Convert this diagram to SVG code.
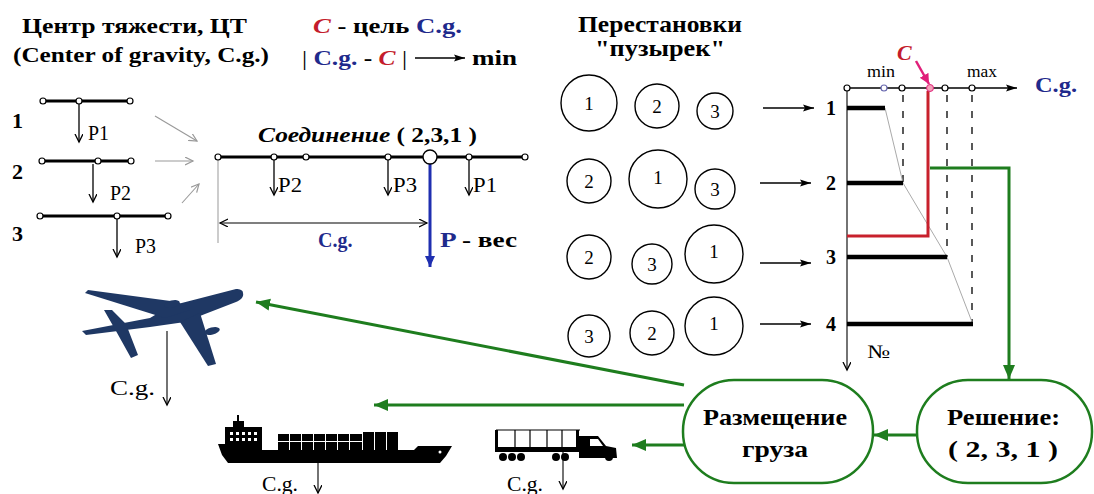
<svg xmlns="http://www.w3.org/2000/svg" width="1094" height="494" viewBox="0 0 1094 494" font-family="'Liberation Serif', 'DejaVu Serif', serif">
  <style>
    .t { font-family: "Liberation Serif", "DejaVu Serif", serif; fill: #000; }
    .b { font-weight: bold; }
    .i { font-style: italic; }
    .blue { fill: #1f2a8c; }
    .red { fill: #c41c2c; }
    .beam { stroke: #000; stroke-width: 3; }
    .pin { fill: #fff; stroke: #000; stroke-width: 1.2; }
    .load { stroke: #000; stroke-width: 1.3; marker-end: url(#ah); }
    .feed { stroke: #999; stroke-width: 1.1; marker-end: url(#ahGray); }
    .step { stroke: #000; stroke-width: 1.5; marker-end: url(#ahFill); }
    .bubble { fill: #fff; stroke: #000; stroke-width: 1.4; }
    .bar { stroke: #000; stroke-width: 4.5; }
    .dash { stroke: #000; stroke-width: 1.3; stroke-dasharray: 7 9; }
    .flow { stroke: #1e7d1e; stroke-width: 3; fill: none; marker-end: url(#ahGreen); }
    .stadium { fill: #fff; stroke: #1e7d1e; stroke-width: 2.5; }
    .thin { stroke: #000; stroke-width: 1.1; marker-end: url(#ah); }
  </style>
  <defs>
    <marker id="ah" markerUnits="userSpaceOnUse" markerWidth="10" markerHeight="10" refX="8" refY="4" orient="auto">
      <path d="M0,0 L8,4 L0,8" fill="none" stroke="#000" stroke-width="1.3"/>
    </marker>
    <marker id="ahDim" markerUnits="userSpaceOnUse" markerWidth="10" markerHeight="10" refX="8" refY="4" orient="auto-start-reverse">
      <path d="M0,0 L8,4 L0,8" fill="none" stroke="#000" stroke-width="1.2"/>
    </marker>
    <marker id="ahGray" markerUnits="userSpaceOnUse" markerWidth="10" markerHeight="10" refX="8" refY="4" orient="auto">
      <path d="M0,0 L8,4 L0,8" fill="none" stroke="#999" stroke-width="1.2"/>
    </marker>
    <marker id="ahFill" markerUnits="userSpaceOnUse" markerWidth="12" markerHeight="10" refX="11" refY="4" orient="auto">
      <path d="M0,0.5 L11,4 L0,7.5 L2,4 Z" fill="#000"/>
    </marker>
    <marker id="ahGreen" markerUnits="userSpaceOnUse" markerWidth="16" markerHeight="14" refX="14" refY="6" orient="auto">
      <path d="M0,0 L14,6 L0,12 Z" fill="#1e7d1e"/>
    </marker>
    <marker id="ahBlue" markerUnits="userSpaceOnUse" markerWidth="12" markerHeight="12" refX="11" refY="5" orient="auto">
      <path d="M0,0 L11,5 L0,10 Z" fill="#1f2fb0"/>
    </marker>
    <marker id="ahPink" markerUnits="userSpaceOnUse" markerWidth="12" markerHeight="12" refX="10" refY="5" orient="auto">
      <path d="M0,0 L10,5 L0,10 Z" fill="#e0207a"/>
    </marker>
  </defs>

  <rect width="1094" height="494" fill="#fff"/>

  <!-- heading -->
  <g id="title">
    <text class="t b" x="22" y="33" font-size="22" textLength="225" lengthAdjust="spacingAndGlyphs">Центр тяжести, ЦТ</text>
    <text class="t b" x="13" y="62" font-size="22" textLength="256" lengthAdjust="spacingAndGlyphs">(Center of gravity, C.g.)</text>
  </g>

  <!-- goal statement -->
  <g id="goal">
    <text class="t b" x="313" y="33" font-size="21" textLength="149" lengthAdjust="spacingAndGlyphs"><tspan class="i red">C</tspan><tspan> - цель </tspan><tspan class="blue">C.g.</tspan></text>
    <text class="t b" x="302" y="65" font-size="21" textLength="105" lengthAdjust="spacingAndGlyphs"><tspan font-weight="normal">| </tspan><tspan class="blue">C.g.</tspan><tspan> - </tspan><tspan class="i red">C</tspan><tspan font-weight="normal"> |</tspan></text>
    <line x1="415" y1="58" x2="465" y2="58" class="step"/>
    <text class="t b" x="472" y="65" font-size="21" textLength="45" lengthAdjust="spacingAndGlyphs">min</text>
  </g>

  <!-- individual loads -->
  <g id="beam1">
    <text class="t b" x="12" y="128" font-size="22">1</text>
    <line x1="43" y1="101" x2="130" y2="101" class="beam"/>
    <line x1="79" y1="104" x2="79" y2="142" class="load"/>
    <circle cx="43" cy="101" r="3" class="pin"/>
    <circle cx="79" cy="101" r="3" class="pin"/>
    <circle cx="130" cy="101" r="3" class="pin"/>
    <text class="t" x="88" y="140" font-size="21" textLength="21" lengthAdjust="spacingAndGlyphs">P1</text>
  </g>
  <g id="beam2">
    <text class="t b" x="12" y="179" font-size="22">2</text>
    <line x1="42" y1="161" x2="131" y2="161" class="beam"/>
    <line x1="93" y1="164" x2="93" y2="202" class="load"/>
    <circle cx="42" cy="161" r="3" class="pin"/>
    <circle cx="98" cy="161" r="3" class="pin"/>
    <circle cx="131" cy="161" r="3" class="pin"/>
    <text class="t" x="110" y="200" font-size="21" textLength="21" lengthAdjust="spacingAndGlyphs">P2</text>
  </g>
  <g id="beam3">
    <text class="t b" x="12" y="241" font-size="22">3</text>
    <line x1="40" y1="216" x2="168" y2="216" class="beam"/>
    <line x1="117" y1="219" x2="117" y2="257" class="load"/>
    <circle cx="40" cy="216" r="3" class="pin"/>
    <circle cx="117" cy="216" r="3" class="pin"/>
    <circle cx="168" cy="216" r="3" class="pin"/>
    <text class="t" x="135" y="253" font-size="21" textLength="21" lengthAdjust="spacingAndGlyphs">P3</text>
  </g>

  <!-- joined beam -->
  <g id="combined">
    <text class="t b" x="258" y="142" font-size="20" textLength="219" lengthAdjust="spacingAndGlyphs"><tspan class="i">Соединение</tspan><tspan> ( 2,3,1 )</tspan></text>
    <line x1="218" y1="160" x2="218" y2="243" stroke="#aaa" stroke-width="1.2"/>
    <line x1="218" y1="157" x2="522" y2="157" class="beam"/>
    <line x1="274" y1="160" x2="274" y2="195" class="load"/>
    <line x1="388" y1="160" x2="388" y2="195" class="load"/>
    <line x1="469" y1="160" x2="469" y2="195" class="load"/>
    <circle cx="218" cy="157" r="3" class="pin"/>
    <circle cx="274" cy="157" r="3" class="pin"/>
    <circle cx="306" cy="157" r="3" class="pin"/>
    <circle cx="388" cy="157" r="3" class="pin"/>
    <circle cx="469" cy="157" r="3" class="pin"/>
    <circle cx="525" cy="157" r="3" class="pin"/>
    <line x1="430" y1="164" x2="430" y2="267" stroke="#1f2fb0" stroke-width="3" marker-end="url(#ahBlue)"/>
    <circle cx="430" cy="157" r="7" fill="#fff" stroke="#000" stroke-width="1.4"/>
    <text class="t" x="278" y="192" font-size="20" textLength="24" lengthAdjust="spacingAndGlyphs">P2</text>
    <text class="t" x="393" y="192" font-size="20" textLength="24" lengthAdjust="spacingAndGlyphs">P3</text>
    <text class="t" x="473" y="192" font-size="20" textLength="24" lengthAdjust="spacingAndGlyphs">P1</text>
    <line x1="220" y1="223" x2="427" y2="223" stroke="#000" stroke-width="1.2" marker-start="url(#ahDim)" marker-end="url(#ahDim)"/>
    <text class="t b blue" x="318" y="247" font-size="20">C.g.</text>
    <text class="t b" x="440" y="247" font-size="20" textLength="77" lengthAdjust="spacingAndGlyphs"><tspan class="blue">P</tspan><tspan> - вес</tspan></text>
  </g>

  <!-- permutations -->
  <g id="permutations">
    <text class="t b" x="578" y="32" font-size="23" textLength="164" lengthAdjust="spacingAndGlyphs">Перестановки</text>
    <text class="t b" x="595" y="56" font-size="23" textLength="130" lengthAdjust="spacingAndGlyphs">"пузырек"</text>
    <g id="row1">
      <circle cx="589" cy="103" r="28" class="bubble"/><text class="t" x="589" y="110" font-size="19" text-anchor="middle">1</text>
      <circle cx="657" cy="106" r="22" class="bubble"/><text class="t" x="657" y="113" font-size="19" text-anchor="middle">2</text>
      <circle cx="715" cy="111" r="18" class="bubble"/><text class="t" x="715" y="118" font-size="19" text-anchor="middle">3</text>
    </g>
    <g id="row2">
      <circle cx="589" cy="181" r="22" class="bubble"/><text class="t" x="589" y="188" font-size="19" text-anchor="middle">2</text>
      <circle cx="658" cy="179" r="29" class="bubble"/><text class="t" x="658" y="184" font-size="19" text-anchor="middle">1</text>
      <circle cx="715" cy="189" r="20" class="bubble"/><text class="t" x="715" y="196" font-size="19" text-anchor="middle">3</text>
    </g>
    <g id="row3">
      <circle cx="589" cy="257" r="22" class="bubble"/><text class="t" x="589" y="264" font-size="19" text-anchor="middle">2</text>
      <circle cx="652" cy="264" r="20" class="bubble"/><text class="t" x="652" y="271" font-size="19" text-anchor="middle">3</text>
      <circle cx="714" cy="254" r="29" class="bubble"/><text class="t" x="714" y="258" font-size="19" text-anchor="middle">1</text>
    </g>
    <g id="row4">
      <circle cx="589" cy="336" r="21" class="bubble"/><text class="t" x="589" y="343" font-size="19" text-anchor="middle">3</text>
      <circle cx="652" cy="333" r="22" class="bubble"/><text class="t" x="652" y="340" font-size="19" text-anchor="middle">2</text>
      <circle cx="714" cy="326" r="29" class="bubble"/><text class="t" x="714" y="330" font-size="19" text-anchor="middle">1</text>
    </g>
  </g>

  <!-- centre-of-gravity chart -->
  <g id="chart">
    <text class="t b i red" x="897" y="60" font-size="22">C</text>
    <text class="t" x="867" y="77" font-size="17" textLength="28" lengthAdjust="spacingAndGlyphs">min</text>
    <text class="t" x="967" y="77" font-size="17" textLength="30" lengthAdjust="spacingAndGlyphs">max</text>
    <text class="t b blue" x="1035" y="92" font-size="21" textLength="42" lengthAdjust="spacingAndGlyphs">C.g.</text>
    <line x1="847" y1="88" x2="1017" y2="88" class="step"/>
    <line x1="847" y1="88" x2="847" y2="370" class="thin"/>
    <line x1="903" y1="95" x2="903" y2="183" class="dash"/>
    <line x1="947" y1="95" x2="947" y2="257" class="dash"/>
    <line x1="972" y1="95" x2="972" y2="324" class="dash"/>
    <polyline points="885,108 903,183 947,257 972,322" fill="none" stroke="#aaa" stroke-width="1"/>
    <polyline points="928,91 928,236 847,236" fill="none" stroke="#c8202c" stroke-width="3"/>
    <line x1="847" y1="108" x2="885" y2="108" class="bar"/>
    <line x1="847" y1="183" x2="903" y2="183" class="bar"/>
    <line x1="847" y1="257" x2="947" y2="257" class="bar"/>
    <line x1="847" y1="324" x2="973" y2="324" class="bar"/>
    <circle cx="847" cy="88" r="3" class="pin"/>
    <circle cx="884" cy="88" r="3" fill="#fff" stroke="#6a6ab0" stroke-width="1.2"/>
    <circle cx="902" cy="88" r="3" class="pin"/>
    <circle cx="930" cy="88" r="3.5" fill="#f4a0b8" stroke="#e0207a" stroke-width="1"/>
    <circle cx="945" cy="88" r="3" class="pin"/>
    <circle cx="972" cy="88" r="3" class="pin"/>
    <line x1="916" y1="61" x2="929" y2="84" stroke="#e0207a" stroke-width="2.5" marker-end="url(#ahPink)"/>
    <text class="t b" x="826" y="115" font-size="20">1</text>
    <text class="t b" x="826" y="190" font-size="20">2</text>
    <text class="t b" x="826" y="264" font-size="20">3</text>
    <text class="t b" x="826" y="331" font-size="20">4</text>
    <text class="t" x="867" y="358" font-size="19" textLength="23" lengthAdjust="spacingAndGlyphs">№</text>
  </g>

  <!-- aircraft -->
  <g id="airplane" fill="#1f3864">
    <path d="M243,293 C244,297 241,300 236,302 L205,314 L185,322 L150,327 L86,335 L82,331 L150,318 L170,306 L205,297 L236,289 C240,289 243,290 243,293 Z"/>
    <path d="M88,290 L85,293 L165,318 L190,310 L178,302 Z"/>
    <path d="M180,322 L200,313 L216,364 L208,366 Z"/>
    <path d="M104,310 L112,310 L126,324 L138,355 L131,358 L116,331 Z"/>
    <ellipse cx="172" cy="304" rx="8" ry="3.5" transform="rotate(-15 172 304)"/>
    <ellipse cx="212" cy="331" rx="8" ry="3.5" transform="rotate(-15 212 331)"/>
    <line x1="167" y1="331" x2="167" y2="405" stroke="#000" stroke-width="1.1" marker-end="url(#ah)"/>
    <text class="t" x="110" y="395" font-size="20" fill="#000" textLength="45" lengthAdjust="spacingAndGlyphs">C.g.</text>
  </g>

  <!-- container ship -->
  <g id="ship">
    <path d="M218,444 L262,444 L262,450 L414,450 L418,446 L452,446 L446,456 L440,463 L228,463 L222,455 Z" fill="#000"/>
    <rect x="225" y="427" width="37" height="18" fill="#000"/>
    <rect x="233" y="421" width="11" height="7" fill="#000"/>
    <line x1="238" y1="415" x2="238" y2="422" stroke="#000" stroke-width="2"/>
    <g fill="#fff">
      <rect x="230" y="432" width="3" height="3"/><rect x="236" y="432" width="3" height="3"/><rect x="242" y="432" width="3" height="3"/><rect x="248" y="432" width="3" height="3"/><rect x="254" y="432" width="3" height="3"/>
      <rect x="230" y="438" width="3" height="3"/><rect x="236" y="438" width="3" height="3"/><rect x="242" y="438" width="3" height="3"/><rect x="248" y="438" width="3" height="3"/><rect x="254" y="438" width="3" height="3"/>
    </g>
    <g fill="#000">
      <rect x="278" y="434" width="11" height="7"/><rect x="290" y="434" width="11" height="7"/><rect x="302" y="434" width="11" height="7"/><rect x="314" y="434" width="11" height="7"/><rect x="326" y="434" width="11" height="7"/><rect x="338" y="434" width="11" height="7"/><rect x="350" y="434" width="12" height="7"/>
      <rect x="278" y="442" width="11" height="8"/><rect x="290" y="442" width="11" height="8"/><rect x="302" y="442" width="11" height="8"/><rect x="314" y="442" width="11" height="8"/><rect x="326" y="442" width="11" height="8"/><rect x="338" y="442" width="11" height="8"/><rect x="350" y="442" width="12" height="8"/>
      <rect x="363" y="432" width="11" height="18"/><rect x="375" y="432" width="11" height="18"/><rect x="387" y="432" width="11" height="18"/>
    </g>
    <circle cx="440" cy="452" r="1.5" fill="#fff"/>
    <line x1="318" y1="463" x2="318" y2="493" stroke="#000" stroke-width="1.1" marker-end="url(#ah)"/>
    <text class="t" x="262" y="491" font-size="20" textLength="36" lengthAdjust="spacingAndGlyphs">C.g.</text>
  </g>

  <!-- lorry -->
  <g id="truck">
    <g stroke="#000" stroke-width="1.2" fill="none">
      <line x1="496" y1="430" x2="580" y2="430"/>
      <line x1="515" y1="430" x2="515" y2="449"/>
      <line x1="530" y1="430" x2="530" y2="449"/>
      <line x1="547" y1="430" x2="547" y2="449"/>
      <line x1="562" y1="430" x2="562" y2="449"/>
    </g>
    <rect x="495" y="430" width="3" height="22" fill="#000"/>
    <rect x="576" y="430" width="3" height="20" fill="#000"/>
    <rect x="495" y="447" width="90" height="5" fill="#000"/>
    <path d="M579,436 L598,436 L606,446 L616,448 L617,458 L579,458 Z" fill="#000"/>
    <path d="M590,439 L598,439 L603,446 L590,446 Z" fill="#fff"/>
    <g fill="#000">
      <circle cx="503" cy="457" r="4"/><circle cx="512" cy="457" r="4"/><circle cx="521" cy="457" r="4"/>
      <circle cx="556" cy="457" r="4"/><circle cx="565" cy="457" r="4"/><circle cx="609" cy="457" r="4"/>
    </g>
    <line x1="563" y1="452" x2="563" y2="489" stroke="#000" stroke-width="1.1" marker-end="url(#ah)"/>
    <text class="t" x="507" y="491" font-size="20" textLength="36" lengthAdjust="spacingAndGlyphs">C.g.</text>
  </g>

  <!-- decision nodes -->
  <g id="placement">
    <rect x="683" y="380" width="190" height="103" rx="51" ry="51" class="stadium"/>
    <text class="t b" x="703" y="425" font-size="24" textLength="144" lengthAdjust="spacingAndGlyphs">Размещение</text>
    <text class="t b" x="742" y="457" font-size="24" textLength="66" lengthAdjust="spacingAndGlyphs">груза</text>
  </g>
  <g id="solution">
    <rect x="917" y="380" width="175" height="103" rx="51" ry="51" class="stadium"/>
    <text class="t b" x="947" y="425" font-size="24" textLength="113" lengthAdjust="spacingAndGlyphs">Решение:</text>
    <text class="t b" x="948" y="457" font-size="24" textLength="110" lengthAdjust="spacingAndGlyphs">( 2, 3, 1 )</text>
  </g>

  <!-- connectors -->
  <g id="connectors">
    <line x1="155" y1="116" x2="197" y2="141" class="feed"/>
    <line x1="155" y1="161" x2="193" y2="161" class="feed"/>
    <line x1="182" y1="203" x2="199" y2="184" class="feed"/>
    <line x1="763" y1="108" x2="814" y2="108" class="step"/>
    <line x1="760" y1="183" x2="811" y2="183" class="step"/>
    <line x1="760" y1="263" x2="811" y2="263" class="step"/>
    <line x1="760" y1="324" x2="811" y2="324" class="step"/>
    <polyline points="930,168 1009,168 1009,379" class="flow"/>
    <line x1="917" y1="435" x2="874" y2="435" class="flow"/>
    <line x1="684" y1="385" x2="256" y2="302" class="flow" stroke-width="2.2"/>
    <line x1="684" y1="405" x2="374" y2="405" class="flow"/>
    <line x1="684" y1="445" x2="632" y2="445" class="flow"/>
  </g>
</svg>
